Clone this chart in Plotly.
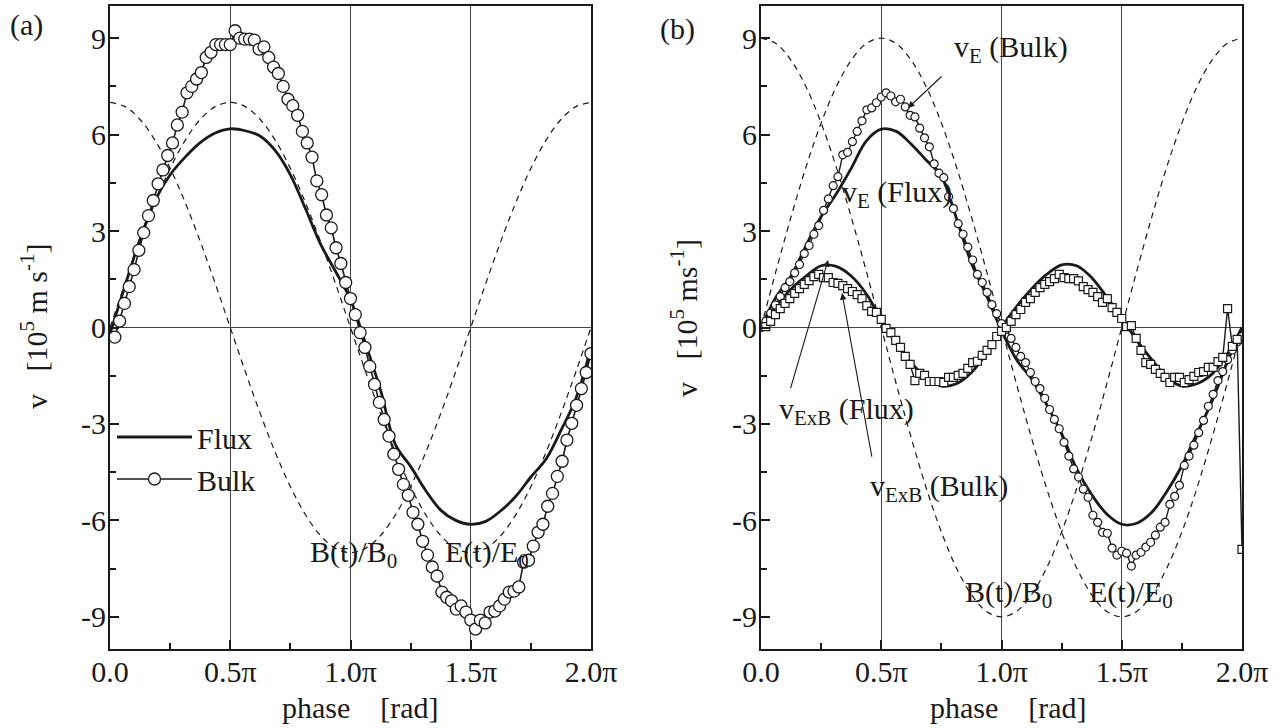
import plotly.graph_objects as go

# ---------------- data (phase in units of pi) ----------------
phase_grid = [i / 16 for i in range(33)]
phase_bulk = [round(0.02 * (i + 1), 2) for i in range(100)]
phase_bulk_b = [round(0.02 * i, 2) for i in range(101)]

# panel (a) reference curves (dashed)
a_B_over_B0 = [7, 6.87, 6.47, 5.82, 4.95, 3.89, 2.68, 1.37, 0, -1.37, -2.68, -3.89, -4.95, -5.82, -6.47, -6.87, -7,
               -6.87, -6.47, -5.82, -4.95, -3.89, -2.68, -1.37, 0, 1.37, 2.68, 3.89, 4.95, 5.82, 6.47, 6.87, 7]
a_E_over_E0 = [0, 1.37, 2.68, 3.89, 4.95, 5.82, 6.47, 6.87, 7, 6.87, 6.47, 5.82, 4.95, 3.89, 2.68, 1.37, 0,
               -1.37, -2.68, -3.89, -4.95, -5.82, -6.47, -6.87, -7, -6.87, -6.47, -5.82, -4.95, -3.89, -2.68, -1.37, 0]

# panel (a) flux
a_flux = [-0.2, 1.3, 2.75, 3.95, 4.75, 5.3, 5.75, 6.05, 6.18, 6.12, 5.95, 5.5, 4.75, 3.7, 2.6, 1.75, 0.87,
          -0.5, -1.95, -3.65, -4.32, -5.07, -5.68, -6.0, -6.12, -6.03, -5.7, -5.25, -4.65, -4.1, -3.2, -2.2, -0.62]

# panel (a) bulk
a_bulk = [-0.3, 0.2, 0.75, 1.27, 1.8, 2.4, 2.95, 3.48, 3.95, 4.47,
          4.9, 5.35, 5.74, 6.3, 6.7, 7.3, 7.5, 7.73, 7.93, 8.4,
          8.56, 8.8, 8.8, 8.8, 8.8, 9.23, 9.0, 8.97, 8.97, 8.94,
          8.66, 8.73, 8.4, 8.1, 7.9, 7.5, 7.1, 6.9, 6.6, 6.1,
          5.74, 5.3, 4.56, 4.13, 3.5, 3.1, 2.48, 1.99, 1.4, 0.9,
          0.4, -0.16, -0.62, -1.21, -1.77, -2.33, -2.86, -3.38, -3.94, -4.41,
          -4.88, -5.22, -5.75, -6.12, -6.65, -7.08, -7.45, -7.73, -8.23, -8.39,
          -8.5, -8.76, -8.66, -8.85, -9.1, -9.38, -9.1, -9.19, -8.85, -8.82,
          -8.66, -8.45, -8.23, -8.2, -8.07, -7.3, -7.24, -6.8, -6.37, -6.12,
          -5.56, -5.16, -4.63, -4.16, -3.5, -2.98, -2.42, -1.9, -1.4, -0.81]

# panel (b) reference curves (dashed)
b_B_over_B0 = [9, 8.83, 8.31, 7.48, 6.36, 5.0, 3.44, 1.76, 0, -1.76, -3.44, -5.0, -6.36, -7.48, -8.31, -8.83, -9,
               -8.83, -8.31, -7.48, -6.36, -5.0, -3.44, -1.76, 0, 1.76, 3.44, 5.0, 6.36, 7.48, 8.31, 8.83, 9]
b_E_over_E0 = [0, 1.76, 3.44, 5.0, 6.36, 7.48, 8.31, 8.83, 9, 8.83, 8.31, 7.48, 6.36, 5.0, 3.44, 1.76, 0,
               -1.76, -3.44, -5.0, -6.36, -7.48, -8.31, -8.83, -9, -8.83, -8.31, -7.48, -6.36, -5.0, -3.44, -1.76, 0]

# panel (b) v_E flux and v_ExB flux
b_vE_flux = [0, 0.95, 1.6, 2.55, 3.45, 4.15, 4.95, 5.8, 6.17, 6.1, 5.7, 5.2, 4.7, 3.4, 2.0, 1.0, -0.1,
             -1.0, -1.6, -2.4, -3.3, -4.4, -5.2, -5.8, -6.12, -6.09, -5.75, -5.1, -4.3, -3.3, -2.3, -1.1, 0.0]
b_vExB_flux = [0, 0.65, 1.2, 1.6, 1.92, 1.9, 1.6, 1.05, 0.25, -0.5, -1.1, -1.55, -1.82, -1.75, -1.4, -0.8, 0,
               0.65, 1.2, 1.65, 1.95, 1.92, 1.55, 0.95, 0.3, -0.4, -1.0, -1.55, -1.82, -1.75, -1.45, -0.85, 0]

# panel (b) v_E bulk (circles)
b_vE_bulk = [0.0, 0.2, 0.45, 0.7, 0.96, 1.24, 1.43, 1.7, 1.96, 2.3,
             2.55, 2.9, 3.17, 3.64, 4.0, 4.41, 4.69, 5.37, 5.45, 5.78,
             6.1, 6.43, 6.77, 6.83, 6.99, 7.17, 7.3, 7.2, 7.02, 7.1,
             6.86, 6.6, 6.55, 6.2, 5.9, 5.62, 5.09, 4.8, 4.66, 4.07,
             3.7, 3.23, 2.9, 2.5, 2.1, 1.65, 1.4, 1.09, 0.71, 0.43,
             0.12, -0.06, -0.34, -0.62, -0.9, -1.09, -1.4, -1.68, -1.9, -2.2,
             -2.55, -2.86, -3.15, -3.57, -4.0, -4.4, -4.65, -5.03, -5.28, -5.84,
             -6.06, -6.37, -6.4, -6.86, -7.08, -6.96, -7.02, -7.42, -7.08, -6.99,
             -6.83, -6.68, -6.46, -6.21, -6.06, -5.5, -5.25, -4.91, -4.29, -4.0,
             -3.66, -3.27, -2.89, -2.45, -2.08, -1.65, -1.37, -1.0, -0.7, -0.45, -0.28]

# panel (b) v_ExB bulk (squares)
b_vExB_bulk = [0.03, 0.19, 0.4, 0.59, 0.75, 0.9, 1.06, 1.21, 1.34, 1.46,
               1.58, 1.65, 1.55, 1.55, 1.4, 1.37, 1.3, 1.21, 1.12, 1.02,
               0.9, 0.68, 0.5, 0.47, 0.25, -0.03, -0.16, -0.4, -0.62, -0.9,
               -1.15, -1.65, -1.43, -1.49, -1.68, -1.68, -1.68, -1.71, -1.55, -1.55,
               -1.49, -1.43, -1.27, -1.09, -1.05, -0.87, -0.71, -0.53, -0.28, -0.12,
               0.0, 0.19, 0.4, 0.56, 0.78, 0.9, 1.09, 1.24, 1.34, 1.43,
               1.52, 1.65, 1.55, 1.52, 1.52, 1.45, 1.27, 1.18, 1.09, 0.96,
               0.78, 0.9, 0.62, 0.47, 0.28, 0.03, 0.06, -0.34, -0.71, -1.09,
               -1.15, -1.3, -1.43, -1.55, -1.71, -1.55, -1.55, -1.71, -1.62, -1.52,
               -1.4, -1.37, -1.24, -1.24, -1.06, -0.93, 0.59, -0.59, -0.37, -6.9]

x_tickvals = [0, 0.5, 1.0, 1.5, 2.0]
x_ticktext = ["0.0", "0.5\u03c0", "1.0\u03c0", "1.5\u03c0", "2.0\u03c0"]
y_tickvals = [-9, -6, -3, 0, 3, 6, 9]
y_ticktext = ["-9", "-6", "-3", "0", "3", "6", "9"]

# ---------------- figure ----------------
FONT = "Liberation Serif, Times New Roman, serif"
INK = "#1a1a1a"
FS = 30
fig = go.Figure()

dash_style = dict(color=INK, width=1.2, dash="6px,5px", shape="spline")

# panel (a)
fig.add_trace(go.Scatter(x=phase_grid, y=a_B_over_B0, mode="lines", line=dash_style, showlegend=False,
                         xaxis="x", yaxis="y", hoverinfo="skip"))
fig.add_trace(go.Scatter(x=phase_grid, y=a_E_over_E0, mode="lines", line=dash_style, showlegend=False,
                         xaxis="x", yaxis="y", hoverinfo="skip"))
fig.add_trace(go.Scatter(x=phase_grid, y=a_flux, mode="lines", name="Flux",
                         line=dict(color=INK, width=2.8, shape="spline"), xaxis="x", yaxis="y"))
fig.add_trace(go.Scatter(x=phase_bulk, y=a_bulk, mode="lines+markers", name="Bulk",
                         line=dict(color=INK, width=1.6),
                         marker=dict(symbol="circle", size=12, color="white", line=dict(color=INK, width=1.3)),
                         xaxis="x", yaxis="y"))

# panel (b)
fig.add_trace(go.Scatter(x=phase_grid, y=b_B_over_B0, mode="lines", line=dash_style, showlegend=False,
                         xaxis="x2", yaxis="y2", hoverinfo="skip"))
fig.add_trace(go.Scatter(x=phase_grid, y=b_E_over_E0, mode="lines", line=dash_style, showlegend=False,
                         xaxis="x2", yaxis="y2", hoverinfo="skip"))
fig.add_trace(go.Scatter(x=phase_grid, y=b_vE_flux, mode="lines", name="v_E (Flux)", showlegend=False,
                         line=dict(color=INK, width=2.8, shape="spline"), xaxis="x2", yaxis="y2"))
fig.add_trace(go.Scatter(x=phase_grid, y=b_vExB_flux, mode="lines", name="v_ExB (Flux)", showlegend=False,
                         line=dict(color=INK, width=2.8, shape="spline"), xaxis="x2", yaxis="y2"))
fig.add_trace(go.Scatter(x=phase_bulk_b, y=b_vE_bulk, mode="lines+markers", name="v_E (Bulk)", showlegend=False,
                         line=dict(color=INK, width=1.4),
                         marker=dict(symbol="circle", size=8, color="white", line=dict(color=INK, width=1.2)),
                         xaxis="x2", yaxis="y2"))
fig.add_trace(go.Scatter(x=phase_bulk, y=b_vExB_bulk, mode="lines+markers", name="v_ExB (Bulk)", showlegend=False,
                         line=dict(color=INK, width=1.4),
                         marker=dict(symbol="square", size=8, color="white", line=dict(color=INK, width=1.2)),
                         xaxis="x2", yaxis="y2"))

W, H = 1282, 728
yd = [(H - 649) / H, (H - 6) / H]
tickfont = dict(family=FONT, size=FS, color=INK)


def xaxis(domain, anchor):
    return dict(domain=domain, anchor=anchor, range=[0, 2], tickmode="array", tickvals=x_tickvals,
                ticktext=x_ticktext, ticks="inside", ticklen=9, tickwidth=1.5, tickcolor=INK,
                showline=True, mirror=True, linecolor=INK, linewidth=1.8, automargin=False,
                ticklabelstandoff=-5,
                showgrid=True, gridcolor="#444", gridwidth=1.3, zeroline=False, tickfont=tickfont,
                minor=dict(tickvals=[0.25, 0.75, 1.25, 1.75], ticks="inside", ticklen=6, tickcolor=INK,
                           showgrid=False),
                fixedrange=True)


def yaxis(anchor):
    return dict(domain=yd, anchor=anchor, range=[-10, 10], tickmode="array", tickvals=y_tickvals,
                ticktext=y_ticktext, ticks="inside", ticklen=9, tickwidth=1.5, tickcolor=INK,
                showline=True, mirror=True, linecolor=INK, linewidth=1.8, automargin=False,
                ticklabelstandoff=-4,
                showgrid=False, zeroline=True, zerolinecolor="#444", zerolinewidth=1.3, tickfont=tickfont,
                minor=dict(tickvals=[-7.5, -4.5, -1.5, 1.5, 4.5, 7.5], ticks="inside", ticklen=6,
                           tickcolor=INK, showgrid=False),
                fixedrange=True)


ann_font = dict(family=FONT, size=FS, color=INK)
NB = "\u00a0"
paper_txt = dict(xref="paper", yref="paper", showarrow=False, font=ann_font, xanchor="center")
annotations = [
    dict(text="(a)", x=26 / W, y=1 - 25 / H, yanchor="middle", **paper_txt),
    dict(text="(b)", x=677 / W, y=1 - 29 / H, yanchor="middle", **paper_txt),
    dict(text="phase" + NB * 4 + "[rad]", x=360 / W, y=2 / H, yanchor="bottom", **paper_txt),
    dict(text="phase" + NB * 4 + "[rad]", x=1009 / W, y=2 / H, yanchor="bottom", **paper_txt),
    dict(text="v" + NB * 3 + "[10<sup>5</sup> m s<sup>-1</sup>]", x=34 / W, y=1 - 326 / H,
         yanchor="middle", textangle=-90, **paper_txt),
    dict(text="v" + NB * 3 + "[10<sup>5</sup> ms<sup>-1</sup>]", x=684 / W, y=1 - 318 / H,
         yanchor="middle", textangle=-90, **paper_txt),
    # panel (a) curve labels
    dict(text="B(t)/B<sub>0</sub>", x=0.823, y=-7.05, xref="x", yref="y", xanchor="left",
         showarrow=False, font=ann_font),
    dict(text="E(t)/E<sub>0</sub>", x=1.385, y=-7.05, xref="x", yref="y", xanchor="left",
         showarrow=False, font=ann_font),
    # panel (b) curve labels
    dict(text="v<sub>E</sub> (Bulk)", x=0.794, y=8.65, xref="x2", yref="y2", xanchor="left",
         showarrow=False, font=ann_font),
    dict(text="v<sub>E</sub> (Flux)", x=0.328, y=4.15, xref="x2", yref="y2", xanchor="left",
         showarrow=False, font=ann_font),
    dict(text="v<sub>ExB</sub> (Flux)", x=0.067, y=-2.6, xref="x2", yref="y2", xanchor="left",
         showarrow=False, font=ann_font),
    dict(text="v<sub>ExB</sub> (Bulk)", x=0.445, y=-5.0, xref="x2", yref="y2", xanchor="left",
         showarrow=False, font=ann_font),
    dict(text="B(t)/B<sub>0</sub>", x=0.84, y=-8.3, xref="x2", yref="y2", xanchor="left",
         showarrow=False, font=ann_font),
    dict(text="E(t)/E<sub>0</sub>", x=1.356, y=-8.3, xref="x2", yref="y2", xanchor="left",
         showarrow=False, font=ann_font),
    # arrows
    dict(text="", x=0.611, y=6.83, ax=0.757, ay=7.85, xref="x2", yref="y2", axref="x2", ayref="y2",
         showarrow=True, arrowhead=2, arrowsize=1.2, arrowwidth=1.1, arrowcolor=INK, standoff=0),
    dict(text="", x=0.279, y=2.10, ax=0.121, ay=-1.94, xref="x2", yref="y2", axref="x2", ayref="y2",
         showarrow=True, arrowhead=2, arrowsize=1.2, arrowwidth=1.1, arrowcolor=INK, standoff=0),
    dict(text="", x=0.337, y=1.07, ax=0.462, ay=-4.06, xref="x2", yref="y2", axref="x2", ayref="y2",
         showarrow=True, arrowhead=2, arrowsize=1.2, arrowwidth=1.1, arrowcolor=INK, standoff=0),
]

fig.update_layout(
    width=W, height=H, margin=dict(l=0, r=0, t=0, b=0, autoexpand=False),
    paper_bgcolor="white", plot_bgcolor="white",
    font=dict(family=FONT, size=FS, color=INK),
    xaxis=xaxis([110 / W, 591 / W], "y"),
    yaxis=yaxis("x"),
    xaxis2=xaxis([761 / W, 1242 / W], "y2"),
    yaxis2=yaxis("x2"),
    showlegend=True,
    legend=dict(x=112 / W, y=1 - 411 / H, xanchor="left", yanchor="top", bgcolor="rgba(0,0,0,0)",
                font=dict(family=FONT, size=FS, color=INK), itemwidth=75, tracegroupgap=0),
    annotations=annotations,
)

fig.write_html("out.html")
